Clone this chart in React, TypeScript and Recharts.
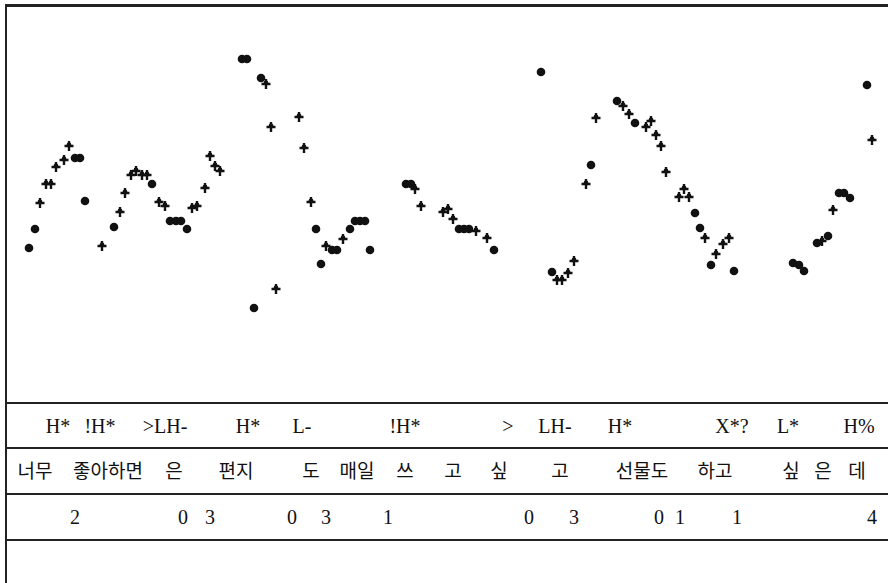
import { ScatterChart, Scatter, XAxis, YAxis } from "recharts";

// time in ms, F0 in Hz
const TIME_DOMAIN: [number, number] = [0, 2646];
const F0_DOMAIN: [number, number] = [52, 450];

const dotTimes = [69, 87, 207, 222, 237, 324, 438, 492, 510, 525, 543, 708, 723, 765, 744, 930, 945, 978, 993, 1032, 1047, 1062, 1077, 1092, 1200, 1215, 1359, 1374, 1389, 1464, 1605, 1638, 1755, 1833, 1887, 2067, 2082, 2115, 2184, 2361, 2379, 2394, 2433, 2466, 2499, 2514, 2532, 2583];
const dotF0 = [207, 226, 297, 297, 254, 228, 271, 234, 234, 234, 226, 396, 396, 377, 147, 226, 191, 205, 205, 226, 234, 234, 234, 205, 271, 271, 226, 226, 226, 205, 383, 183, 290, 354, 332, 242, 227, 190, 184, 192, 190, 184, 212, 219, 262, 262, 257, 370];

const plusTimes = [102, 120, 135, 150, 174, 189, 288, 342, 357, 375, 390, 408, 423, 459, 477, 558, 573, 597, 612, 627, 642, 780, 795, 810, 879, 894, 915, 960, 1011, 1227, 1245, 1311, 1326, 1341, 1410, 1443, 1653, 1668, 1686, 1704, 1740, 1770, 1851, 1869, 1920, 1935, 1950, 1965, 1980, 2019, 2034, 2049, 2097, 2130, 2151, 2169, 2448, 2481, 2598];
const plusF0 = [252, 271, 271, 288, 295, 309, 209, 243, 262, 280, 284, 280, 280, 253, 249, 247, 249, 267, 299, 289, 284, 371, 328, 166, 338, 307, 253, 209, 216, 266, 249, 243, 246, 236, 224, 217, 175, 175, 182, 194, 271, 337, 349, 341, 328, 334, 320, 309, 283, 258, 266, 258, 217, 201, 211, 217, 214, 245, 315];

const toneLabels = ["H*", "!H*", ">LH-", "H*", "L-", "!H*", ">", "LH-", "H*", "X*?", "L*", "H%"];
const toneTimes = [156, 282, 477, 726, 888, 1197, 1506, 1647, 1842, 2178, 2346, 2559];

const wordLabels = ["너무", "좋아하면", "은", "편지", "도", "매일", "쓰", "고", "싶", "고", "선물도", "하고", "싶", "은", "데"];
const wordTimes = [87, 306, 504, 690, 915, 1053, 1197, 1341, 1479, 1662, 1908, 2127, 2355, 2451, 2553];

const breakLabels = ["2", "0", "3", "0", "3", "1", "0", "3", "0", "1", "1", "4"];
const breakTimes = [207, 531, 612, 858, 960, 1146, 1569, 1704, 1959, 2022, 2193, 2598];

const dotData = dotTimes.map((t, i) => ({ t, f0: dotF0[i] }));
const plusData = plusTimes.map((t, i) => ({ t, f0: plusF0[i] }));
const toneData = toneLabels.map((label, i) => ({ t: toneTimes[i], y: 0.5, label }));
const wordData = wordLabels.map((label, i) => ({ t: wordTimes[i], y: 0.5, label }));
const breakData = breakLabels.map((label, i) => ({ t: breakTimes[i], y: 0.5, label }));

const INK = "#111";
const SERIF = "'Liberation Serif', 'DejaVu Serif', serif";
const KOREAN = "'Noto Sans CJK KR', sans-serif";

const DotMark = (props: any) => {
  const { cx, cy } = props;
  return <circle cx={cx} cy={cy} r={4.3} fill={INK} />;
};

const PlusMark = (props: any) => {
  const { cx, cy } = props;
  return (
    <g>
      <path d={`M${cx - 4.5},${cy}H${cx + 4.5}M${cx},${cy - 5}V${cy + 5}`} stroke={INK} strokeWidth={2.4} />
      <circle cx={cx} cy={cy - 1} r={2.4} fill={INK} />
    </g>
  );
};

function TierRow({ data, font, size }: { data: any[]; font: string; size: number }) {
  const LabelMark = (props: any) => (
    <text
      x={props.cx}
      y={props.cy + size * 0.36}
      textAnchor="middle"
      fontFamily={font}
      fontSize={size}
      fill={INK}
    >
      {props.payload.label}
    </text>
  );
  return (
    <ScatterChart width={882} height={46} margin={{ top: 0, right: 0, bottom: 0, left: 0 }}>
      <XAxis type="number" dataKey="t" domain={TIME_DOMAIN} hide />
      <YAxis type="number" dataKey="y" domain={[0, 1]} hide />
      <Scatter data={data} shape={LabelMark} isAnimationActive={false} />
    </ScatterChart>
  );
}

const line = (top: number, thick = 1.5) => (
  <div style={{ position: "absolute", left: 5, top, width: 883, height: thick, background: "#222" }} />
);

export default function App() {
  return (
    <div style={{ position: "absolute", left: 0, top: 0, width: 888, height: 583, background: "#fff", overflow: "hidden" }}>
      <div style={{ position: "absolute", left: 6, top: 5 }}>
        <ScatterChart width={882} height={398} margin={{ top: 0, right: 0, bottom: 0, left: 0 }}>
          <XAxis type="number" dataKey="t" domain={TIME_DOMAIN} hide />
          <YAxis type="number" dataKey="f0" domain={F0_DOMAIN} hide />
          <Scatter data={dotData} shape={DotMark} isAnimationActive={false} />
          <Scatter data={plusData} shape={PlusMark} isAnimationActive={false} />
        </ScatterChart>
      </div>
      <div style={{ position: "absolute", left: 6, top: 403 }}>
        <TierRow data={toneData} font={SERIF} size={20} />
      </div>
      <div style={{ position: "absolute", left: 6, top: 448 }}>
        <TierRow data={wordData} font={KOREAN} size={19} />
      </div>
      <div style={{ position: "absolute", left: 6, top: 494 }}>
        <TierRow data={breakData} font={SERIF} size={20} />
      </div>
      {line(4, 2.5)}
      {line(402)}
      {line(447)}
      {line(493)}
      {line(539)}
      <div style={{ position: "absolute", left: 5, top: 4, width: 2, height: 579, background: "#222" }} />
    </div>
  );
}
